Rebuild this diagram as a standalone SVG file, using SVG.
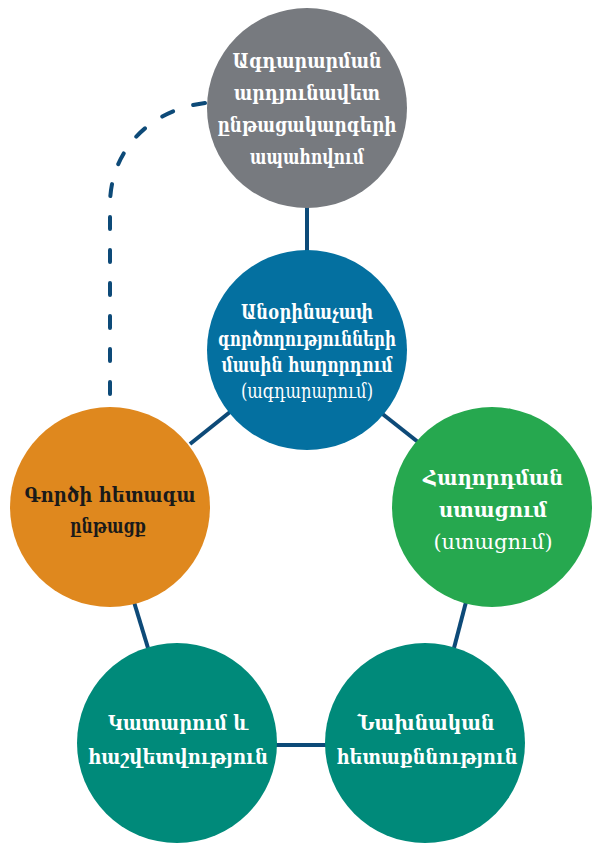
<svg xmlns="http://www.w3.org/2000/svg" width="599" height="844" viewBox="0 0 599 844">
<style>
.t{font-family:"DejaVu Serif","Liberation Serif","Noto Serif",serif;font-size:20.5px;text-anchor:middle;fill:#fff;font-weight:bold}
.n{font-weight:normal}
.d{fill:#1a1a1a}
.c{stroke:#0d4a78;stroke-width:4;fill:none}
</style>
<rect width="599" height="844" fill="#fff"/>
<g id="connectors">
<line class="c" x1="307" y1="206" x2="307" y2="252"/>
<line class="c" x1="380" y1="412" x2="418" y2="442"/>
<line class="c" x1="230" y1="412" x2="190" y2="444"/>
<line class="c" x1="466" y1="602" x2="454" y2="648"/>
<line class="c" x1="134" y1="602" x2="148" y2="648"/>
<line class="c" x1="275" y1="745" x2="327" y2="745"/>
<path class="c" d="M205,103 C150,110 110,150 110,205 L110,405" stroke-dasharray="12 21" stroke-linecap="round"/>
</g>
<g id="n1">
<circle cx="307" cy="108" r="100" fill="#777a7f"/>
<text class="t" x="307" y="68" textLength="149" lengthAdjust="spacingAndGlyphs">Ագդարարման</text>
<text class="t" x="307" y="100" textLength="146" lengthAdjust="spacingAndGlyphs">արդյունավետ</text>
<text class="t" x="307" y="132" textLength="179" lengthAdjust="spacingAndGlyphs">ընթացակարգերի</text>
<text class="t" x="307" y="164" textLength="114" lengthAdjust="spacingAndGlyphs">ապահովում</text>
</g>
<g id="n2">
<circle cx="307" cy="350" r="100" fill="#0470a0"/>
<text class="t" x="307" y="319" textLength="132" lengthAdjust="spacingAndGlyphs">Անօրինաչափ</text>
<text class="t" x="307" y="346" textLength="178" lengthAdjust="spacingAndGlyphs">գործողությունների</text>
<text class="t" x="307" y="372" textLength="171" lengthAdjust="spacingAndGlyphs">մասին հաղորդում</text>
<text class="t n" x="307" y="398" textLength="132" lengthAdjust="spacingAndGlyphs">(ագդարարում)</text>
</g>
<g id="n3">
<circle cx="492" cy="507" r="100" fill="#26a84f"/>
<text class="t" x="493" y="485" textLength="140" lengthAdjust="spacingAndGlyphs">Հաղորդման</text>
<text class="t" x="493" y="517" textLength="108" lengthAdjust="spacingAndGlyphs">ստացում</text>
<text class="t n" x="493" y="549" textLength="119" lengthAdjust="spacingAndGlyphs">(ստացում)</text>
</g>
<g id="n4">
<circle cx="110" cy="507" r="100" fill="#df881e"/>
<text class="t d" x="110" y="502" textLength="171" lengthAdjust="spacingAndGlyphs">Գործի հետագա</text>
<text class="t d" x="108" y="533" textLength="76" lengthAdjust="spacingAndGlyphs">ընթացք</text>
</g>
<g id="n5">
<circle cx="177" cy="743" r="100" fill="#008a7a"/>
<text class="t" x="178" y="730" textLength="140" lengthAdjust="spacingAndGlyphs">Կատարում և</text>
<text class="t" x="178" y="764" textLength="180" lengthAdjust="spacingAndGlyphs">հաշվետվություն</text>
</g>
<g id="n6">
<circle cx="425" cy="743" r="100" fill="#008a7a"/>
<text class="t" x="426" y="730" textLength="137" lengthAdjust="spacingAndGlyphs">Նախնական</text>
<text class="t" x="427" y="764" textLength="181" lengthAdjust="spacingAndGlyphs">հետաքննություն</text>
</g>
</svg>
